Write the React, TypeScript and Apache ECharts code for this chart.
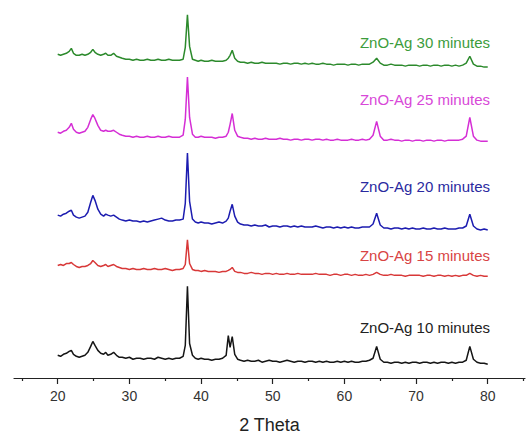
import React, { useEffect, useRef } from "react";
import * as echarts from "echarts";

// 2-theta positions (degrees)
const twoTheta = [
  20, 20.4, 20.8, 21.2, 21.6, 21.9, 22.2, 22.6, 23, 23.4,
  23.8, 24.2, 24.6, 24.9, 25.2, 25.6, 26, 26.4, 26.7, 27,
  27.4, 27.8, 28.2, 28.6, 29, 29.5, 30, 30.5, 31, 31.5,
  32, 32.5, 33, 33.5, 34, 34.5, 35, 35.5, 36, 36.5,
  37, 37.5, 37.8, 38.1, 38.4, 38.8, 39.2, 39.6, 40, 40.5,
  41, 41.5, 42, 42.5, 43, 43.5, 43.8, 44.05, 44.35, 44.7,
  45.1, 45.5, 46, 46.5, 47, 47.5, 48, 48.5, 49, 49.5,
  50, 50.5, 51, 51.5, 52, 52.5, 53, 53.5, 54, 54.5,
  55, 55.5, 56, 56.5, 57, 57.5, 58, 58.5, 59, 59.5,
  60, 60.5, 61, 61.5, 62, 62.5, 63, 63.5, 64, 64.5,
  65, 65.5, 66, 66.5, 67, 67.5, 68, 68.5, 69, 69.5,
  70, 70.5, 71, 71.5, 72, 72.5, 73, 73.5, 74, 74.5,
  75, 75.5, 76, 76.5, 77, 77.5, 78, 78.5, 79, 79.5,
  80,
];

const min10 = [
  10, 9, 11, 12, 14, 15, 11, 9, 8, 9,
  10, 13, 19, 24, 20, 15, 12, 11, 13, 10,
  11, 13, 10, 8, 8, 7, 8, 6, 7, 7,
  6, 7, 7, 6, 8, 7, 6, 7, 6, 7,
  7, 9, 20, 80, 22, 10, 7, 6, 7, 6,
  6, 5, 6, 6, 7, 10, 30, 18, 29, 11,
  6, 5, 4, 5, 4, 4, 5, 3, 4, 5,
  4, 4, 3, 4, 5, 4, 3, 4, 4, 3,
  4, 4, 3, 4, 3, 4, 3, 3, 4, 3,
  4, 3, 4, 3, 3, 4, 4, 5, 7, 19,
  6, 3, 3, 2, 3, 3, 2, 3, 2, 3,
  3, 2, 3, 3, 2, 3, 2, 3, 3, 2,
  3, 2, 3, 3, 5, 19, 6, 3, 2, 2,
  1,
];

const min15 = [
  13, 14, 13, 15, 15, 16, 14, 12, 11, 12,
  12, 13, 15, 18, 16, 13, 12, 13, 14, 12,
  13, 14, 12, 11, 10, 10, 9, 10, 9, 9,
  10, 9, 9, 10, 9, 9, 10, 9, 8, 9,
  9, 10, 14, 39, 15, 9, 8, 8, 7, 8,
  7, 7, 7, 6, 7, 7, 8, 9, 11, 7,
  6, 6, 5, 5, 6, 5, 5, 4, 5, 5,
  4, 5, 4, 4, 5, 4, 4, 5, 4, 4,
  4, 4, 5, 4, 4, 4, 3, 4, 4, 3,
  4, 4, 3, 4, 3, 3, 4, 3, 4, 6,
  4, 3, 3, 4, 3, 3, 3, 2, 3, 3,
  3, 3, 2, 3, 3, 2, 3, 3, 2, 3,
  2, 3, 2, 3, 3, 5, 3, 2, 3, 2,
  2,
];

const min20 = [
  18, 17, 19, 20, 22, 23, 18, 16, 15, 16,
  17, 21, 31, 38, 33, 24, 19, 17, 19, 18,
  17, 18, 16, 14, 13, 12, 13, 12, 12, 11,
  12, 11, 12, 13, 14, 15, 13, 12, 12, 13,
  13, 14, 30, 81, 32, 14, 11, 10, 11, 10,
  10, 9, 10, 11, 10, 12, 15, 22, 29, 17,
  11, 9, 8, 8, 7, 8, 7, 7, 8, 6,
  7, 7, 6, 7, 7, 6, 7, 6, 7, 6,
  6, 6, 7, 6, 5, 6, 6, 5, 6, 5,
  6, 5, 6, 5, 5, 6, 6, 6, 9, 20,
  8, 5, 5, 4, 5, 5, 4, 5, 4, 5,
  4, 4, 5, 4, 4, 5, 4, 4, 5, 4,
  4, 4, 5, 5, 7, 19, 7, 4, 3, 4,
  3,
];

const min25 = [
  12, 11, 13, 14, 17, 21, 15, 12, 11, 12,
  13, 17, 25, 30, 26, 19, 14, 13, 14, 13,
  13, 14, 12, 10, 9, 8, 8, 7, 8, 7,
  7, 8, 7, 7, 8, 7, 7, 8, 7, 7,
  7, 9, 25, 68, 27, 10, 7, 7, 8, 7,
  7, 7, 6, 7, 7, 8, 12, 20, 31, 14,
  8, 7, 6, 6, 5, 6, 5, 5, 6, 5,
  5, 5, 6, 5, 5, 4, 5, 5, 4, 5,
  5, 4, 5, 5, 4, 5, 4, 4, 5, 4,
  4, 4, 5, 4, 4, 5, 4, 5, 9, 23,
  8, 4, 4, 5, 4, 4, 3, 4, 4, 3,
  4, 4, 3, 4, 4, 3, 4, 4, 3, 4,
  4, 4, 4, 5, 8, 27, 8, 4, 3, 3,
  3,
];

const min30 = [
  15, 14, 15, 16, 18, 21, 16, 14, 14, 15,
  14, 15, 17, 20, 17, 15, 14, 15, 16, 14,
  14, 16, 13, 12, 11, 10, 10, 9, 10, 9,
  9, 10, 9, 9, 10, 9, 9, 10, 9, 9,
  9, 10, 22, 55, 23, 10, 9, 8, 9, 8,
  8, 9, 8, 8, 8, 9, 11, 14, 19, 11,
  8, 7, 7, 6, 7, 6, 6, 7, 6, 6,
  6, 6, 5, 6, 6, 5, 6, 6, 5, 6,
  5, 6, 5, 5, 6, 5, 5, 4, 5, 5,
  5, 4, 5, 5, 4, 5, 5, 5, 7, 11,
  6, 4, 4, 5, 4, 4, 4, 3, 4, 4,
  4, 3, 4, 4, 3, 4, 4, 3, 4, 4,
  3, 4, 3, 4, 6, 13, 5, 3, 3, 2,
  2,
];

const seriesNames = [
  "ZnO-Ag 10 minutes",
  "ZnO-Ag 15 minutes",
  "ZnO-Ag 20 minutes",
  "ZnO-Ag 25 minutes",
  "ZnO-Ag 30 minutes",
];
const seriesValues = [min10, min15, min20, min25, min30];
const stackOffsets = [13, 101, 147, 237, 313];
const lineColors = ["#151515", "#d83838", "#1c1cb0", "#d52ed5", "#2c8a2c"];
const textColors = ["#222222", "#d84444", "#2a2aa0", "#d848d8", "#3c9c3c"];
const labelY = [327, 255, 186, 99, 42];

const majorTicks = [20, 30, 40, 50, 60, 70, 80];
const minorTicks = [15, 25, 35, 45, 55, 65, 75, 85];

const FONT = "Liberation Sans, Arial, Helvetica, sans-serif";

export default function App() {
  const ref = useRef<HTMLDivElement>(null);

  useEffect(() => {
    if (!ref.current) return;
    const chart = echarts.init(ref.current, null, { renderer: "svg" });

    const series = seriesValues.map((vals, i) => ({
      name: seriesNames[i],
      type: "line",
      xAxisIndex: 0,
      yAxisIndex: 0,
      showSymbol: false,
      symbol: "none",
      silent: true,
      lineStyle: { color: lineColors[i], width: 1.5 },
      data: twoTheta.map((x, j) => [x, vals[j] + stackOffsets[i]]),
    }));

    const graphic = seriesNames.map((name, i) => ({
      type: "text",
      x: 490,
      y: labelY[i],
      silent: true,
      style: {
        text: name,
        fill: textColors[i],
        font: `15px ${FONT}`,
        align: "right",
        verticalAlign: "middle",
      },
    }));

    chart.setOption({
      animation: false,
      backgroundColor: "#ffffff",
      grid: { left: 14, right: 2, top: 0, bottom: 56, containLabel: false },
      xAxis: [
        {
          type: "value",
          min: 13.9,
          max: 85.2,
          position: "bottom",
          name: "2 Theta",
          nameLocation: "middle",
          nameGap: 38,
          nameTextStyle: { fontSize: 18, color: "#222", fontFamily: FONT },
          axisLine: { show: true, lineStyle: { color: "#222", width: 1.2 } },
          axisTick: {
            show: true,
            customValues: majorTicks,
            length: 6,
            lineStyle: { color: "#222", width: 1.2 },
          },
          axisLabel: {
            show: true,
            customValues: majorTicks,
            margin: 11,
            fontSize: 14,
            color: "#333",
            fontFamily: FONT,
          },
          splitLine: { show: false },
        },
        {
          type: "value",
          min: 13.9,
          max: 85.2,
          position: "bottom",
          offset: 0,
          axisLine: { show: false },
          axisTick: {
            show: true,
            customValues: minorTicks,
            length: 3,
            lineStyle: { color: "#222", width: 1.2 },
          },
          axisLabel: { show: false },
          splitLine: { show: false },
        },
      ],
      yAxis: {
        type: "value",
        min: 0,
        max: 383,
        show: false,
        splitLine: { show: false },
      },
      series,
      graphic,
    });

    return () => chart.dispose();
  }, []);

  return (
    <div
      ref={ref}
      style={{
        position: "fixed",
        left: 0,
        top: 0,
        width: 527,
        height: 439,
        background: "#fff",
      }}
    />
  );
}
